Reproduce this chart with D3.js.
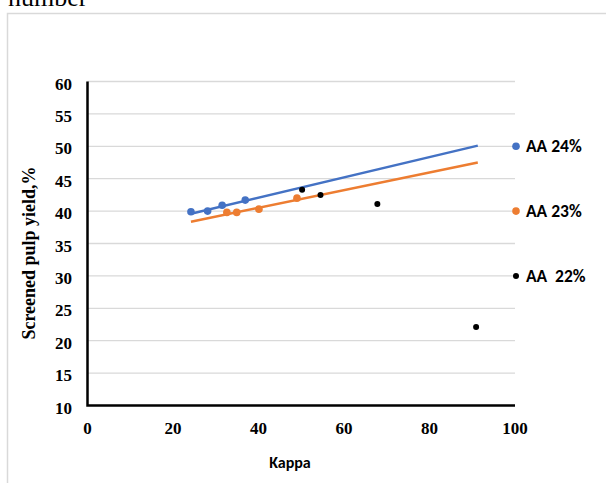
<!DOCTYPE html>
<html lang="en">
  <head>
    <meta charset="UTF-8" />
    <title>Screened pulp yield vs Kappa</title>
    <script src="https://d3js.org/d3.v7.min.js"></script>
    <style>
      body {
        margin: 0;
        background: #fff;
      }
      svg {
        display: block;
      }
      .tick-label {
        font-family: 'Liberation Serif', 'Times New Roman', serif;
        font-weight: bold;
        font-size: 17px;
        fill: #000;
      }
      .sans {
        font-family: Carlito, 'Open Sans', 'Liberation Sans', Arial, sans-serif;
        font-weight: bold;
        fill: #000;
      }
    </style>
  </head>
  <body>
    <div id="chart"></div>
    <script>
      // Data
      const seriesNames = ['AA 24%', 'AA 23%', 'AA  22%'];
      const aa24Kappa = [24.2, 28.1, 31.5, 36.9];
      const aa24Yield = [39.9, 40.0, 40.9, 41.7];
      const aa23Kappa = [32.6, 34.9, 40.1, 49.0];
      const aa23Yield = [39.8, 39.8, 40.3, 42.0];
      const aa22Kappa = [50.2, 54.5, 67.8, 90.9];
      const aa22Yield = [43.3, 42.5, 41.1, 22.1];
      // linear trendlines (start/end)
      const trendKappa = [24.2, 91.3];
      const aa24Trend = [39.6, 50.1];
      const aa23Trend = [38.35, 47.5];
      // legend sits at the right edge of the plot, level with these yields
      const legendYield = [50, 40, 30];
      const yTicks = [10, 15, 20, 25, 30, 35, 40, 45, 50, 55, 60];
      const xTicks = [0, 20, 40, 60, 80, 100];

      const width = 606;
      const height = 483;
      const colors = ['#4472C4', '#ED7D31', '#000000'];

      const svg = d3
        .select('#chart')
        .append('svg')
        .attr('width', width)
        .attr('height', height);

      // caption text cut off at the very top (as in the source)
      svg
        .append('text')
        .attr('x', 8)
        .attr('y', 6)
        .attr('font-family', "'Liberation Serif', 'Times New Roman', serif")
        .attr('font-size', 26)
        .text('number');

      // outer chart frame
      svg
        .append('rect')
        .attr('x', 7.5)
        .attr('y', 13.5)
        .attr('width', 620)
        .attr('height', 500)
        .attr('fill', 'none')
        .attr('stroke', '#d9d9d9')
        .attr('stroke-width', 1.5);

      const x = d3.scaleLinear().domain([0, 100]).range([87.5, 515]);
      const y = d3.scaleLinear().domain([10, 60]).range([405.5, 81.5]);

      // gridlines
      svg
        .append('g')
        .selectAll('line')
        .data(yTicks.slice(1))
        .join('line')
        .attr('x1', x(0))
        .attr('x2', x(100))
        .attr('y1', (d) => y(d))
        .attr('y2', (d) => y(d))
        .attr('stroke', '#d9d9d9')
        .attr('stroke-width', 1.3);

      // axes
      svg
        .append('path')
        .attr('d', `M${x(0)},${y(60)}V${y(10)}H${x(100)}`)
        .attr('fill', 'none')
        .attr('stroke', '#000')
        .attr('stroke-width', 2.5);

      svg
        .append('g')
        .selectAll('text')
        .data(yTicks)
        .join('text')
        .attr('class', 'tick-label')
        .attr('x', 72)
        .attr('y', (d) => y(d) + 8)
        .attr('text-anchor', 'end')
        .text((d) => d);

      svg
        .append('g')
        .selectAll('text')
        .data(xTicks)
        .join('text')
        .attr('class', 'tick-label')
        .attr('x', (d) => x(d))
        .attr('y', 433.5)
        .attr('text-anchor', 'middle')
        .text((d) => d);

      // axis titles
      svg
        .append('text')
        .attr('class', 'tick-label')
        .style('font-size', '18px')
        .attr('transform', 'translate(35,253) rotate(-90)')
        .attr('text-anchor', 'middle')
        .text('Screened pulp yield,%');

      svg
        .append('text')
        .attr('class', 'sans')
        .attr('font-size', 16)
        .attr('x', 290)
        .attr('y', 468)
        .attr('text-anchor', 'middle')
        .text('Kappa');

      // trendlines
      const line = d3
        .line()
        .x((d) => x(d[0]))
        .y((d) => y(d[1]));

      [aa24Trend, aa23Trend].forEach((t, i) => {
        svg
          .append('path')
          .attr('d', line(d3.zip(trendKappa, t)))
          .attr('fill', 'none')
          .attr('stroke', colors[i])
          .attr('stroke-width', 2.5);
      });

      // points
      const series = [
        d3.zip(aa24Kappa, aa24Yield),
        d3.zip(aa23Kappa, aa23Yield),
        d3.zip(aa22Kappa, aa22Yield),
      ];
      series.forEach((pts, i) => {
        svg
          .append('g')
          .selectAll('circle')
          .data(pts)
          .join('circle')
          .attr('cx', (d) => x(d[0]))
          .attr('cy', (d) => y(d[1]))
          .attr('r', i === 2 ? 3 : 3.8)
          .attr('fill', colors[i]);
      });

      // legend
      const legend = svg
        .append('g')
        .selectAll('g')
        .data(seriesNames)
        .join('g')
        .attr('transform', (d, i) => `translate(${x(100) + 1},${y(legendYield[i])})`);

      legend
        .append('circle')
        .attr('r', (d, i) => (i === 2 ? 3 : 3.8))
        .attr('fill', (d, i) => colors[i]);

      legend
        .append('text')
        .attr('class', 'sans')
        .attr('font-size', 17.5)
        .attr('x', 10)
        .attr('y', 6)
        .attr('xml:space', 'preserve')
        .style('white-space', 'pre')
        .text((d) => d);
    </script>
  </body>
</html>
